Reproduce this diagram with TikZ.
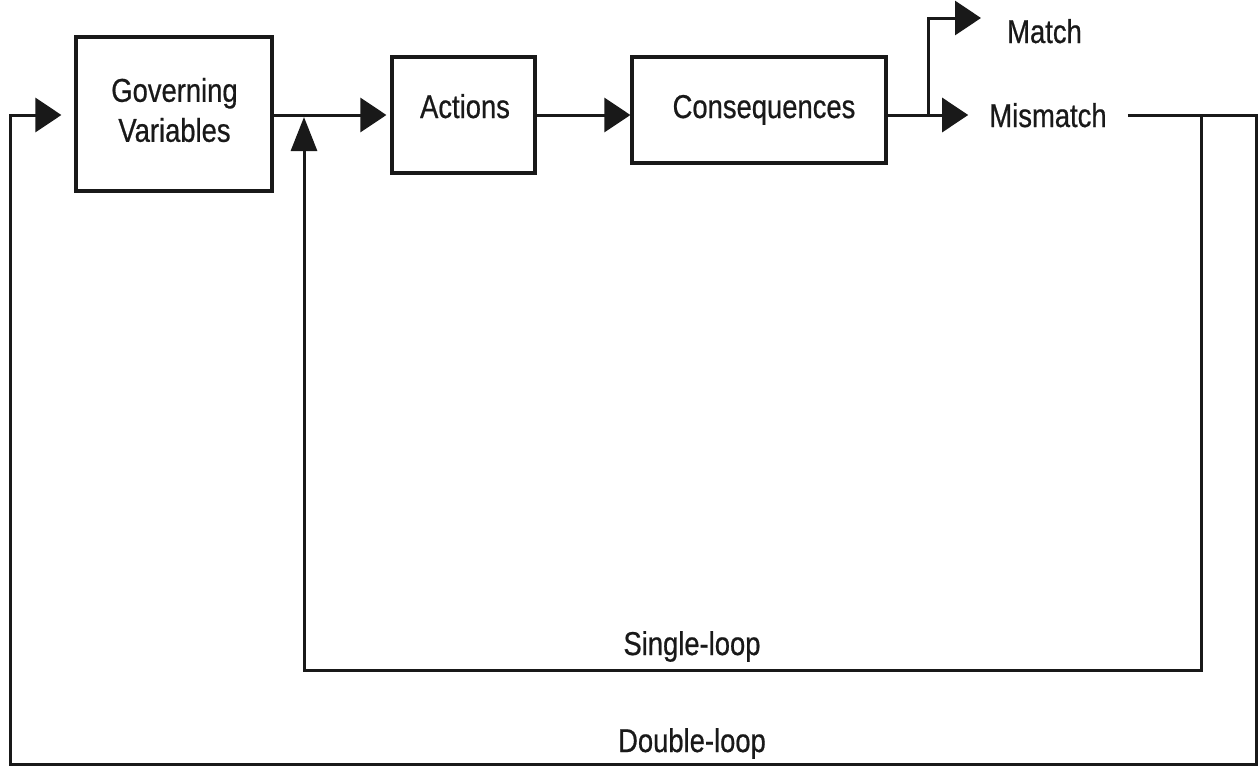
\documentclass[tikz,border=0pt]{standalone}
\usepackage{fontspec}
\setmainfont[FakeStretch=0.83,FakeBold=0.6]{Liberation Sans}
\usetikzlibrary{arrows.meta}
\begin{document}
\begin{tikzpicture}[x=1pt,y=-1pt,
  box/.style={draw=black!90, line width=3.2pt, inner sep=0pt},
  lbl/.style={inner sep=0pt, font=\fontsize{33}{40}\selectfont, align=center, text=black!90},
  conn/.style={line width=3pt, draw=black!90},
  harr/.style={conn, -{Triangle[length=26pt,width=34pt]}},
  varr/.style={conn, -{Triangle[length=34pt,width=26pt]}},
]
\path[use as bounding box] (0,0) rectangle (1258,766);
% boxes
\node[box, minimum width=196pt, minimum height=154pt] (gv) at (174,114) {};
\node[box, minimum width=143pt, minimum height=116pt] (act) at (463.5,115) {};
\node[box, minimum width=254pt, minimum height=106pt] (cons) at (759,110) {};
% labels
\node[lbl] (gvt) at (174.5,110) {Governing\\Variables};
\node[lbl, anchor=base] (actt) at (465,118) {Actions};
\node[lbl, anchor=base] (const) at (764,118) {Consequences};
\node[lbl, anchor=base, inner xsep=21pt] (mm) at (1048,127) {Mismatch};
\node[lbl, anchor=base, inner xsep=26pt] (match) at (1044.5,43) {Match};
\node[lbl, anchor=base] (sl) at (692,655) {Single-loop};
\node[lbl, anchor=base] (dl) at (692,752) {Double-loop};
% coordinates
\coordinate (j1) at (304,115);
\coordinate (j2) at (928,115);
\coordinate (j3) at (1201,115);
\coordinate (tr) at (1256.5,115);
\coordinate (br) at (1256.5,764);
\coordinate (bl) at (10,764);
\coordinate (tl) at (10,115);
\coordinate (slr) at (1201,670);
\coordinate (sll) at (304,670);
\coordinate (mt) at (928,18);
% connectors
\draw[harr, shorten >=13pt] (mm.east |- tr) -- (tr) -- (br) -- (bl) -- (tl) -- (gv.west |- tl);
\draw[harr, shorten >=4pt] (gv.east |- j1) -- (act.west |- j1);
\draw[harr] (act.east |- j1) -- (cons.west |- j1);
\draw[harr] (cons.east |- j2) -- (mm.west |- j2);
\draw[harr] (j2) -- (mt) -- (match.west |- mt);
\draw[varr, shorten >=2pt] (j3) -- (slr) -- (sll) -- (j1);
\end{tikzpicture}
\end{document}
